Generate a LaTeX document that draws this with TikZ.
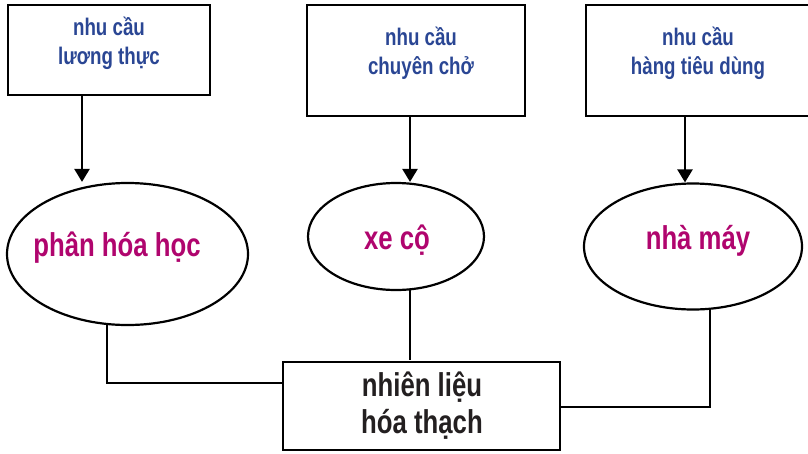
\documentclass[tikz,border=0pt]{standalone}
\usepackage{fontspec}
\setmainfont[FakeStretch=0.78]{Liberation Sans}
\usetikzlibrary{shapes.geometric,arrows.meta}
\definecolor{needblue}{HTML}{2A4694}
\definecolor{usemag}{HTML}{B0056E}
\definecolor{fuelink}{HTML}{231F20}
\tikzset{
  boxshape/.style={draw=black,line width=2.4pt,rectangle,inner sep=0pt},
  ellshape/.style={draw=black,line width=2.2pt,ellipse,inner sep=0pt},
  needtext/.style={text=needblue,align=center,font=\bfseries\fontsize{24}{29}\selectfont},
  usetext/.style={text=usemag,font=\bfseries\fontsize{33}{38}\selectfont},
  fueltext/.style={text=fuelink,align=center,font=\bfseries\fontsize{33}{37}\selectfont},
  arr/.style={line width=2.4pt,-{Triangle[width=15pt,length=13pt]}},
  link/.style={line width=2.4pt}
}
\begin{document}
\begin{tikzpicture}[x=1pt,y=-1pt]
\clip (0,0) rectangle (808,453);
\fill[white] (0,0) rectangle (808,453);
% need boxes
\node[boxshape,minimum width=202pt,minimum height=90pt] (b1) at (109,50) {};
\node[needtext] (t1) at (109,43.5) {nhu cầu\\lương thực};
\node[boxshape,minimum width=218pt,minimum height=111pt] (b2) at (416,60.5) {};
\node[needtext] (t2) at (421,53.5) {nhu cầu\\chuyên chở};
\node[boxshape,minimum width=224pt,minimum height=111pt] (b3) at (698,60.5) {};
\node[needtext] (t3) at (698,53.5) {nhu cầu\\hàng tiêu dùng};
% ellipses
\node[ellshape,minimum width=241pt,minimum height=142pt] (e1) at (127.5,254) {};
\node[usetext] (l1) at (117,248) {phân hóa học};
\node[ellshape,minimum width=176pt,minimum height=107pt] (e2) at (396,236.5) {};
\node[usetext] (l2) at (397,240) {xe cộ};
\node[ellshape,minimum width=218pt,minimum height=126pt] (e3) at (693,246.5) {};
\node[usetext] (l3) at (698,241) {nhà máy};
% fuel box
\node[boxshape,minimum width=277pt,minimum height=88pt] (fb) at (421.5,406) {};
\node[fueltext] (ft) at (422,406) {nhiên liệu\\hóa thạch};
% arrows
\draw[arr] ([xshift=-27pt]b1.south) -- ([xshift=-27pt]b1.south |- e1.north);
\draw[arr] ([xshift=-6pt]b2.south) -- ([xshift=-6pt]b2.south |- e2.north);
\draw[arr] ([xshift=-13pt]b3.south) -- ([xshift=-13pt]b3.south |- e3.north);
% links to fuel box
\draw[link] ([xshift=-20.5pt,yshift=1pt]e1.south) |- ([yshift=23pt]fb.west);
\draw[link] ([xshift=14pt,yshift=1pt]e2.south) -- ([xshift=14pt,yshift=1pt]e2.south |- fb.north);
\draw[link] ([xshift=17pt,yshift=2pt]e3.south) |- ([yshift=-1pt]fb.east);
\end{tikzpicture}
\end{document}
